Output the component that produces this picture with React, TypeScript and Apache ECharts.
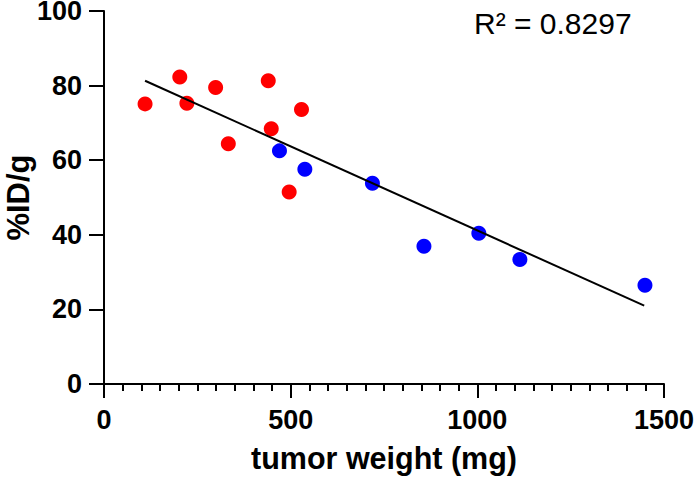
import React, { useEffect, useRef } from "react";
import * as echarts from "echarts";

const redX = [110, 203, 222, 299, 333, 440, 448, 529, 496];
const redY = [75.1, 82.3, 75.3, 79.5, 64.4, 81.3, 68.4, 73.6, 51.5];
const blueX = [470, 538, 719, 857, 1004, 1114, 1449];
const blueY = [62.5, 57.6, 53.8, 36.9, 40.4, 33.4, 26.5];
const fitX = [110, 1447];
const fitY = [81.3, 21.0];
const xTicks = [0, 500, 1000, 1500];
const yTicks = [0, 20, 40, 60, 80, 100];
const xTitle = "tumor weight (mg)";
const yTitle = "%ID/g";
const rText = "R² = 0.8297";

const FONT = "'Liberation Sans', Arial, Helvetica, sans-serif";

export default function App() {
  const ref = useRef<HTMLDivElement>(null);
  useEffect(() => {
    document.body.style.margin = "0";
    const chart = echarts.init(ref.current!, null, { renderer: "svg" });
    const zip = (xs: number[], ys: number[]) => xs.map((x, i) => [x, ys[i]]);
    chart.setOption({
      animation: false,
      backgroundColor: "#ffffff",
      grid: {
        left: 104,
        top: 11,
        width: 560,
        height: 373,
        containLabel: false,
        outerBoundsMode: "none",
      },
      xAxis: {
        type: "value",
        min: xTicks[0],
        max: xTicks[xTicks.length - 1],
        interval: 500,
        name: xTitle,
        nameLocation: "middle",
        nameGap: 58,
        nameMoveOverlap: false,
        nameTextStyle: { fontFamily: FONT, fontWeight: "bold", fontSize: 30.5, color: "#000" },
        axisLine: { show: true, lineStyle: { color: "#000", width: 2 } },
        axisTick: { show: true, length: 14, lineStyle: { color: "#000", width: 2 } },
        minorTick: { show: true, splitNumber: 10, length: 7, lineStyle: { color: "#000", width: 2 } },
        splitLine: { show: false },
        minorSplitLine: { show: false },
        axisLabel: {
          fontFamily: FONT,
          fontWeight: "bold",
          fontSize: 27,
          color: "#000",
          margin: 22,
          formatter: (v: number) => String(v),
        },
      },
      yAxis: {
        type: "value",
        min: yTicks[0],
        max: yTicks[yTicks.length - 1],
        interval: 20,
        name: yTitle,
        nameLocation: "middle",
        nameGap: 70,
        nameMoveOverlap: false,
        nameTextStyle: { fontFamily: FONT, fontWeight: "bold", fontSize: 31, color: "#000" },
        axisLine: { show: true, lineStyle: { color: "#000", width: 2 } },
        axisTick: { show: true, length: 15, lineStyle: { color: "#000", width: 2 } },
        splitLine: { show: false },
        axisLabel: {
          fontFamily: FONT,
          fontWeight: "bold",
          fontSize: 27,
          lineHeight: 21,
          color: "#000",
          margin: 22,
          formatter: (v: number) => String(v),
        },
      },
      graphic: [
        {
          type: "text",
          left: 474,
          top: 8,
          style: { text: rText, font: `30px ${FONT}`, fill: "#000" },
        },
      ],
      series: [
        {
          type: "line",
          data: zip(fitX, fitY),
          showSymbol: false,
          symbol: "none",
          lineStyle: { color: "#000", width: 2 },
          z: 3,
        },
        {
          type: "scatter",
          data: zip(redX, redY),
          symbolSize: 15,
          itemStyle: { color: "#ff0000", opacity: 1 },
          z: 2,
        },
        {
          type: "scatter",
          data: zip(blueX, blueY),
          symbolSize: 15,
          itemStyle: { color: "#0000ff", opacity: 1 },
          z: 2,
        },
      ],
    });
    return () => chart.dispose();
  }, []);
  return <div ref={ref} style={{ width: 697, height: 483 }} />;
}
